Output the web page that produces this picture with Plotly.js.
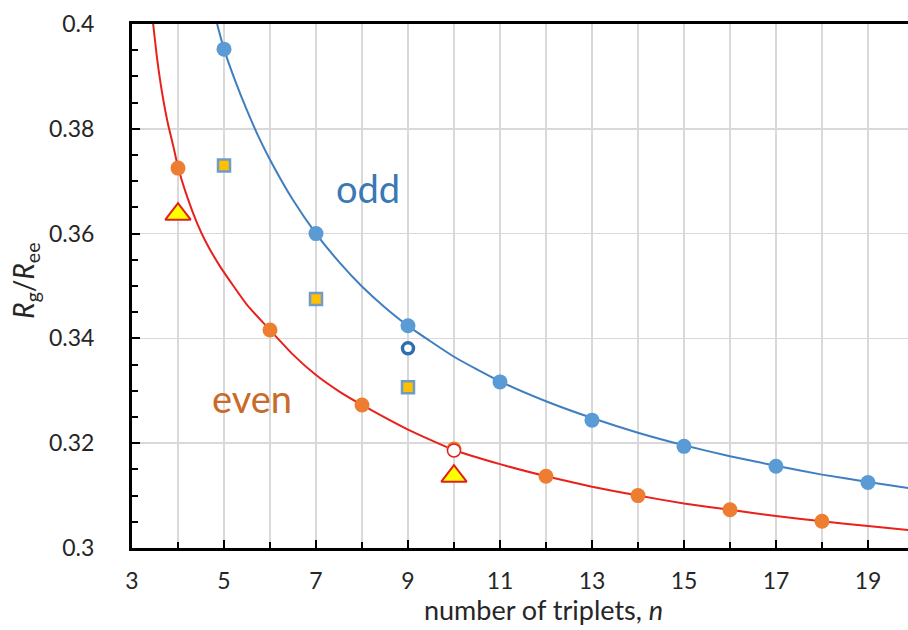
<!DOCTYPE html>
<html><head><meta charset="utf-8">
<script src="https://cdn.plot.ly/plotly-3.0.1.min.js"></script>
<style>html,body{margin:0;padding:0;background:#fff}#chart{width:908px;height:630px}</style>
</head><body><div id="chart"></div>
<script>
// data points
const oddN = [5, 7, 9, 11, 13, 15, 17, 19];
const oddVal = [0.3952, 0.3600, 0.3424, 0.3317, 0.3244, 0.3194, 0.3156, 0.3125];
const evenN = [4, 6, 8, 10, 12, 14, 16, 18];
const evenVal = [0.3725, 0.3416, 0.3273, 0.3189, 0.3137, 0.3100, 0.3073, 0.3051];
// fitted curves
const oddFitN = [4.85, 5, 5.25, 5.5, 5.75, 6, 6.5, 7, 7.5, 8, 8.5, 9, 10, 11, 12, 13, 14, 15, 16, 17, 18, 19, 19.9];
const oddFitVal = [0.4000, 0.3952, 0.3890, 0.3835, 0.3785, 0.3741, 0.3664, 0.3600, 0.3546, 0.3499, 0.3459, 0.3424, 0.3365, 0.3318, 0.3280, 0.3248, 0.3220, 0.3196, 0.3175, 0.3157, 0.3140, 0.3126, 0.3114];
const evenFitN = [3.46, 3.55, 3.65, 3.78, 3.9, 4.0, 4.2, 4.41, 4.6, 4.91, 5.5, 6, 6.5, 7, 7.5, 8, 9, 10, 11, 12, 13, 14, 15, 16, 17, 18, 19, 19.9];
const evenFitVal = [0.4000, 0.3931, 0.3871, 0.3810, 0.3766, 0.3727, 0.3670, 0.3621, 0.3585, 0.3538, 0.3464, 0.3416, 0.3369, 0.3330, 0.3299, 0.3273, 0.3226, 0.3187, 0.3160, 0.3137, 0.3117, 0.3100, 0.3085, 0.3073, 0.3061, 0.3051, 0.3042, 0.3034];
const squareN = [5, 7, 9];
const squareVal = [0.3730, 0.3475, 0.3307];
const openOddN = [9];
const openOddVal = [0.3381];
const openEvenN = [10];
const openEvenVal = [0.3186];
const triN = [4, 10];
const triVal = [0.3637, 0.3137];
const xTickVals = [3, 5, 7, 9, 11, 13, 15, 17, 19];
const yTickVals = [0.3, 0.32, 0.34, 0.36, 0.38, 0.4];
const yTickText = ['0.3', '0.32', '0.34', '0.36', '0.38', '0.4'];

const FONT = 'Lato, "Open Sans", sans-serif';
const TXT = '#262626';

const traces = [
  {x: oddFitN, y: oddFitVal, mode: 'lines', line: {color: '#3F7FC0', width: 2, shape: 'spline', smoothing: 0.5}},
  {x: evenFitN, y: evenFitVal, mode: 'lines', line: {color: '#E8211C', width: 2, shape: 'spline', smoothing: 0.5}},
  {x: oddN, y: oddVal, mode: 'markers', marker: {color: '#5B9BD5', size: 15}},
  {x: evenN, y: evenVal, mode: 'markers', marker: {color: '#ED7D31', size: 15}},
  {x: squareN, y: squareVal, mode: 'markers', marker: {symbol: 'square', color: '#FFC000', size: 12, line: {color: '#6E9CC6', width: 2.5}}},
  {x: openOddN, y: openOddVal, mode: 'markers', marker: {symbol: 'circle', color: '#FFFFFF', size: 11, line: {color: '#2E6DB0', width: 3.5}}},
  {x: openEvenN, y: openEvenVal, mode: 'markers', marker: {symbol: 'circle', color: '#FFFFFF', size: 13, line: {color: '#E0201B', width: 1.5}}},
  {x: triN, y: triVal, mode: 'markers', marker: {symbol: 'triangle-up', color: '#FFFF00', size: 22, line: {color: '#E0201B', width: 2}}}
];

const layout = {
  width: 908, height: 630,
  margin: {l: 132, r: 0, t: 24, b: 82},
  paper_bgcolor: '#fff', plot_bgcolor: '#fff',
  showlegend: false,
  font: {family: FONT, size: 23, color: TXT},
  xaxis: {
    range: [3, 19.87], tickvals: xTickVals, ticktext: xTickVals.map(String),
    showline: true, linecolor: '#000', linewidth: 3, mirror: true,
    ticks: 'inside', ticklen: 8, tickwidth: 2, tickcolor: '#000',
    showgrid: true, gridcolor: '#D9D9D9', gridwidth: 1.5,
    zeroline: false, ticklabelstandoff: 10,
    tickfont: {family: FONT, size: 23, color: TXT},
    minor: {dtick: 1, ticks: 'inside', ticklen: 6, tickwidth: 2, tickcolor: '#000', showgrid: true, gridcolor: '#D9D9D9', gridwidth: 1.5}
  },
  yaxis: {
    range: [0.3, 0.4], tickvals: yTickVals, ticktext: yTickText,
    showline: true, linecolor: '#000', linewidth: 3,
    ticks: 'inside', ticklen: 8, tickwidth: 2, tickcolor: '#000',
    showgrid: true, gridcolor: '#D9D9D9', gridwidth: 1.5,
    zeroline: false, ticklabelstandoff: 30,
    tickfont: {family: FONT, size: 23, color: TXT},
    minor: {dtick: 0.005, ticks: 'inside', ticklen: 6, tickwidth: 2, tickcolor: '#000', showgrid: false}
  },
  annotations: [
    {text: 'odd', x: 8.13, y: 0.3687, xref: 'x', yref: 'y', showarrow: false, font: {family: FONT, size: 38, color: '#3A78B6'}},
    {text: 'even', x: 5.61, y: 0.3286, xref: 'x', yref: 'y', showarrow: false, font: {family: FONT, size: 38, color: '#C86A28'}},
    {text: 'number of triplets, <i>n</i>', xref: 'paper', yref: 'paper', x: 0.53, y: -0.117, xanchor: 'center', yanchor: 'middle', showarrow: false, font: {family: FONT, size: 27, color: TXT}},
    {text: '<i>R</i><sub>g</sub>/<i>R</i><sub>ee</sub>', xref: 'paper', yref: 'paper', x: -0.138, y: 0.51, xanchor: 'center', yanchor: 'middle', textangle: -90, showarrow: false, font: {family: FONT, size: 28, color: TXT}}
  ]
};

Plotly.newPlot('chart', traces, layout, {staticPlot: true, displayModeBar: false});
</script>
</body></html>
